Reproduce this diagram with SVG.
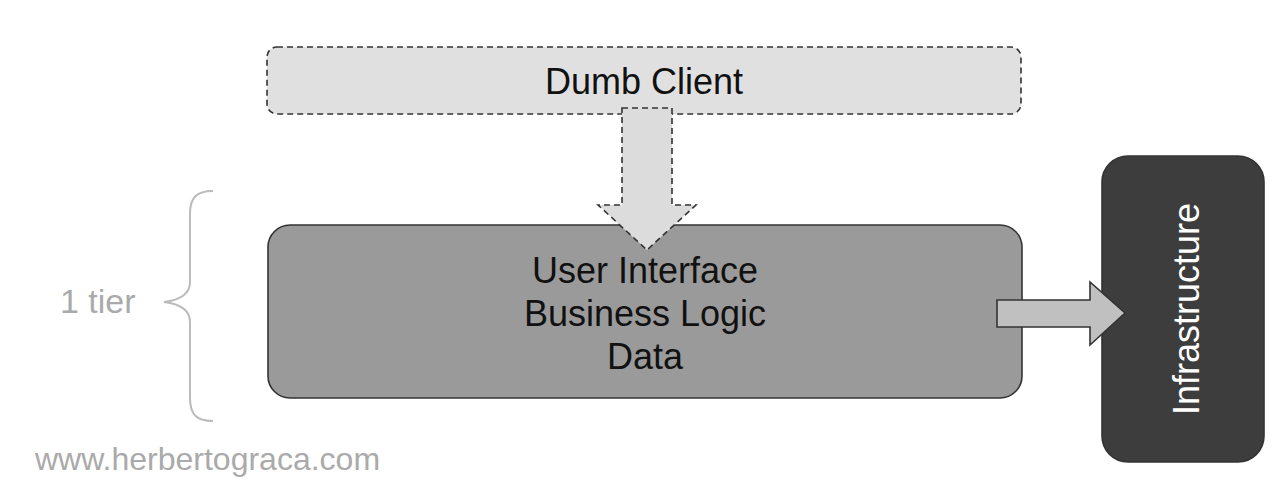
<svg xmlns="http://www.w3.org/2000/svg" width="1275" height="492" viewBox="0 0 1275 492">
<style>
.lbl{font-family:"Liberation Sans",Arial,sans-serif;font-size:36px;fill:#111;text-anchor:middle}
.gray{font-family:"Liberation Sans",Arial,sans-serif;fill:#aaa}
.dash{stroke:#333;stroke-width:1.6;stroke-dasharray:6 4}
.solid{stroke:#333;stroke-width:1.6}
</style>
<rect width="1275" height="492" fill="#fff"/>
<g id="dumb-client">
<rect x="267" y="47" width="754" height="67" rx="10" fill="#e0e0e0" class="dash"/>
<text class="lbl" x="644" y="94">Dumb Client</text>
</g>
<g id="one-tier">
<rect x="268" y="225" width="754" height="173" rx="22" fill="#9a9a9a" class="solid"/>
<text class="lbl" x="645" y="283">User Interface</text>
<text class="lbl" x="645" y="326">Business Logic</text>
<text class="lbl" x="645" y="369">Data</text>
</g>
<g id="infrastructure">
<rect x="1102" y="156" width="162" height="306" rx="26" fill="#3d3d3d" class="solid"/>
<text class="lbl" x="0" y="0" style="fill:#fff" transform="translate(1199 309) rotate(-90)">Infrastructure</text>
</g>
<g id="connectors">
<path d="M622 108 L672 108 L672 205 L696 205 L647 250 L598 205 L622 205 Z" fill="#dcdcdc" class="dash"/>
<path d="M997 300 L1090 300 L1090 282 L1125 313 L1090 345 L1090 327 L997 327 Z" fill="#c0c0c0" class="solid"/>
</g>
<g id="tier-label">
<path d="M213 191 C196 191 190 198 190 214 L190 282 C190 294 180 300 164 302 C180 304 190 310 190 322 L190 398 C190 414 196 421 213 421" fill="none" stroke="#bbb" stroke-width="2"/>
<text class="gray" x="60" y="313" font-size="34">1 tier</text>
</g>
<text class="gray" x="35" y="470" font-size="32">www.herbertograca.com</text>
</svg>
